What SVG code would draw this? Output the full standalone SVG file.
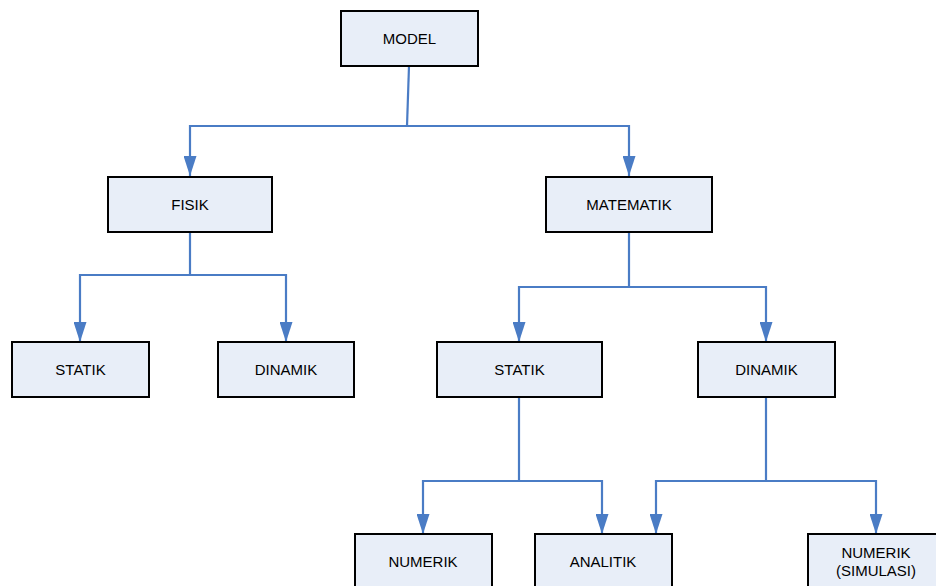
<svg xmlns="http://www.w3.org/2000/svg" width="936" height="586" viewBox="0 0 936 586">
<style>
.box{fill:#E8EEF8;stroke:#000;stroke-width:2}
.lbl{font-family:"Liberation Sans",Arial,sans-serif;font-size:15px;fill:#000;text-anchor:middle}
.con{fill:none;stroke:#4A7CC5;stroke-width:2.2}
</style>
<defs>
<marker id="ah" markerUnits="userSpaceOnUse" viewBox="0 0 20 13" refX="20" refY="6.5" markerWidth="20" markerHeight="13" orient="auto">
<path d="M0,0 L20,6.5 L0,13 z" fill="#4A7CC5"/>
</marker>
</defs>
<rect width="936" height="586" fill="#fff"/>
<g id="connectors">
<path class="con" d="M409,66 L407,126"/>
<path class="con" d="M407,126 H190 V176" marker-end="url(#ah)"/>
<path class="con" d="M407,126 H629 V176" marker-end="url(#ah)"/>
<path class="con" d="M190,232 V275 H80 V342" marker-end="url(#ah)"/>
<path class="con" d="M190,275 H286 V342" marker-end="url(#ah)"/>
<path class="con" d="M629,232 V287 H519 V342" marker-end="url(#ah)"/>
<path class="con" d="M629,287 H766 V342" marker-end="url(#ah)"/>
<path class="con" d="M519,397 V481 H423 V534" marker-end="url(#ah)"/>
<path class="con" d="M519,481 H602 V534" marker-end="url(#ah)"/>
<path class="con" d="M766,397 V481 H656 V534" marker-end="url(#ah)"/>
<path class="con" d="M766,481 H876 V534" marker-end="url(#ah)"/>
</g>
<g id="model"><rect class="box" x="341" y="11" width="137" height="55"/><text class="lbl" x="409.5" y="44">MODEL</text></g>
<g id="fisik"><rect class="box" x="108" y="177" width="164" height="55"/><text class="lbl" x="190" y="210">FISIK</text></g>
<g id="matematik"><rect class="box" x="546" y="177" width="166" height="55"/><text class="lbl" x="629" y="210">MATEMATIK</text></g>
<g id="statik-fisik"><rect class="box" x="12" y="342" width="137" height="55"/><text class="lbl" x="80.5" y="375">STATIK</text></g>
<g id="dinamik-fisik"><rect class="box" x="218" y="342" width="136" height="55"/><text class="lbl" x="286" y="375">DINAMIK</text></g>
<g id="statik-mat"><rect class="box" x="437" y="342" width="165" height="55"/><text class="lbl" x="519.5" y="375">STATIK</text></g>
<g id="dinamik-mat"><rect class="box" x="698" y="342" width="137" height="55"/><text class="lbl" x="766.5" y="375">DINAMIK</text></g>
<g id="numerik"><rect class="box" x="355" y="534" width="137" height="55"/><text class="lbl" x="423" y="567">NUMERIK</text></g>
<g id="analitik"><rect class="box" x="535" y="534" width="137" height="55"/><text class="lbl" x="603" y="567">ANALITIK</text></g>
<g id="numerik-simulasi"><rect class="box" x="808" y="534" width="136" height="55"/><text class="lbl" x="876" y="558">NUMERIK</text><text class="lbl" x="876" y="576">(SIMULASI)</text></g>
</svg>
